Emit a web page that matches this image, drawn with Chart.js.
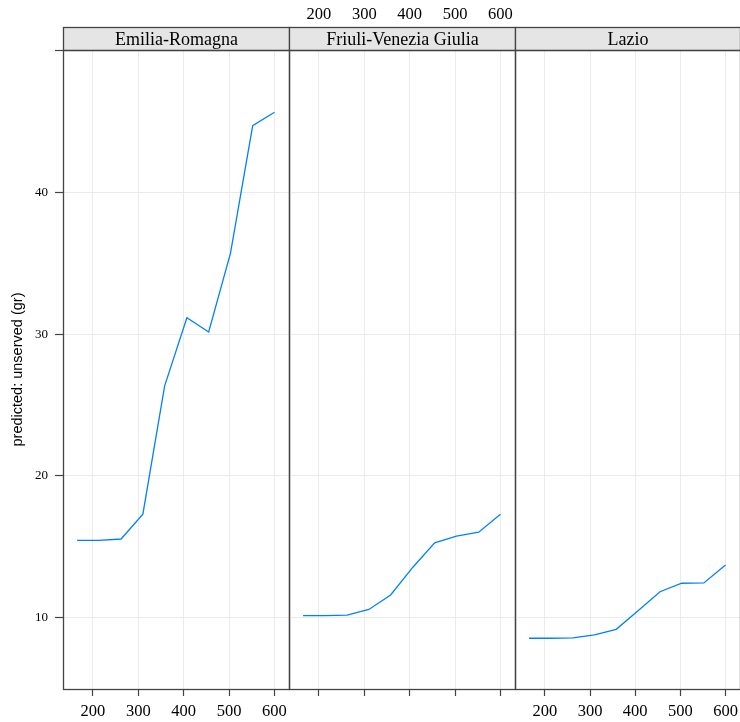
<!DOCTYPE html>
<html>
<head>
<meta charset="utf-8">
<script src="https://cdn.jsdelivr.net/npm/chart.js@4/dist/chart.umd.min.js"></script>
<style>
  html, body { margin: 0; padding: 0; background: #fff; }
  #wrap { position: relative; width: 740px; height: 722px; overflow: hidden; background: #fff; }
  #wrap canvas { position: absolute; left: 0; top: 0; }
</style>
</head>
<body>
<div id="wrap">
  <canvas id="panel0" width="740" height="722"></canvas>
  <canvas id="panel1" width="740" height="722"></canvas>
  <canvas id="panel2" width="740" height="722"></canvas>
</div>
<script>
// Regions shown as panels, left to right
const regions = ['Emilia-Romagna', 'Friuli-Venezia Giulia', 'Lazio'];

// Shared x values (capacity)
const capacity = [165, 213, 262, 310, 358, 407, 455, 503, 552, 600];

// Predicted unserved demand per region
const emiliaRomagna = [15.45, 15.45, 15.55, 17.3, 26.35, 31.15, 30.15, 35.7, 44.7, 45.65];
const friuliVeneziaGiulia = [10.14, 10.15, 10.18, 10.58, 11.6, 13.56, 15.28, 15.76, 16.03, 17.3];
const lazio = [8.55, 8.55, 8.57, 8.78, 9.18, 10.5, 11.83, 12.43, 12.45, 13.72];

// Axis ticks
const xTicks = [200, 300, 400, 500, 600];
const yTicks = [10, 20, 30, 40, 50];
const yTickLabels = ['10', '20', '30', '40', ''];

const yTitle = 'predicted: unserved (gr)';

const series = [emiliaRomagna, friuliVeneziaGiulia, lazio];

// Layout of the three panels (pixels)
const panelEdges = [[63, 289], [289, 515], [515, 740]];
const plotTop = 50, plotBottom = 689, stripTop = 27;
const xRange = [134, 632];
const yRange = [4.97, 50.04];

const SERIF = '"Liberation Serif", "Times New Roman", serif';
const SANS = '"Liberation Sans", Arial, sans-serif';
const FRAME = '#444';
const GRID = '#ebebeb';

// Keep every panel exactly where it is placed, whatever the label overhang
function noOverhang(s) {
  s.paddingLeft = 0; s.paddingRight = 0; s.paddingTop = 0; s.paddingBottom = 0;
}

// Strip header and panel frame
const panelFrame = {
  id: 'panelFrame',
  afterDraw(chart, args, opts) {
    const { ctx, chartArea: a } = chart;
    const L = Math.round(a.left) + 0.5, R = Math.round(a.right) + 0.5;
    const T = Math.round(a.top) + 0.5, B = Math.round(a.bottom) + 0.5;
    const S = stripTop + 0.5;
    ctx.save();
    ctx.fillStyle = '#e5e5e5';
    ctx.fillRect(L, S, R - L, T - S);
    ctx.strokeStyle = FRAME;
    ctx.lineWidth = 1.3;
    ctx.strokeRect(L, S, R - L, T - S);
    ctx.strokeRect(L, T, R - L, B - T);
    ctx.fillStyle = '#000';
    ctx.font = '18px ' + SERIF;
    ctx.textAlign = 'center';
    ctx.textBaseline = 'middle';
    ctx.fillText(opts.label, (L + R) / 2, (S + T) / 2 + 1);
    ctx.restore();
  }
};

function makePanel(idx) {
  const [left, right] = panelEdges[idx];
  const first = idx === 0;
  const middle = idx === 1;

  const scales = {
    x: {
      type: 'linear', position: 'bottom', min: xRange[0], max: xRange[1],
      afterBuildTicks: s => { s.ticks = xTicks.map(v => ({ value: v })); },
      afterFit: s => { s.height = 722 - plotBottom; noOverhang(s); },
      grid: { color: GRID, tickColor: FRAME, tickLength: 7, drawTicks: true, drawOnChartArea: true, tickWidth: 1.2 },
      border: { display: false },
      ticks: {
        autoSkip: false, maxRotation: 0, padding: 6, color: '#000',
        font: { family: SERIF, size: 16.5 },
        callback: v => middle ? '' : String(v)
      }
    },
    y: {
      type: 'linear', position: 'left', min: yRange[0], max: yRange[1],
      afterBuildTicks: s => { s.ticks = yTicks.map(v => ({ value: v })); },
      afterFit: s => { s.width = first ? left : 0; noOverhang(s); },
      grid: { color: GRID, tickColor: FRAME, tickLength: 8, drawTicks: first, drawOnChartArea: true, tickWidth: 1.2 },
      border: { display: false },
      ticks: {
        display: first, padding: 7, color: '#000',
        font: { family: SERIF, size: 13 },
        callback: v => yTickLabels[yTicks.indexOf(v)] ?? ''
      },
      title: {
        display: first, text: yTitle, color: '#000',
        font: { family: SANS, size: 14.5 },
        padding: { top: 9, bottom: 0 }
      }
    }
  };

  if (middle) {
    scales.xTop = {
      type: 'linear', position: 'top', axis: 'x', min: xRange[0], max: xRange[1],
      afterBuildTicks: s => { s.ticks = xTicks.map(v => ({ value: v })); },
      afterFit: s => { s.height = plotTop; noOverhang(s); },
      grid: { display: false, drawTicks: false, drawOnChartArea: false },
      border: { display: false },
      ticks: {
        autoSkip: false, maxRotation: 0, padding: 25, color: '#000',
        font: { family: SERIF, size: 16.5 }
      }
    };
  }

  return new Chart(document.getElementById('panel' + idx), {
    type: 'line',
    data: {
      datasets: [{
        label: regions[idx],
        data: capacity.map((c, i) => ({ x: c, y: series[idx][i] })),
        borderColor: '#0080ff',
        borderWidth: 1.3,
        pointRadius: 0,
        tension: 0,
        fill: false
      }]
    },
    options: {
      responsive: false,
      animation: false,
      devicePixelRatio: 1,
      parsing: false,
      layout: {
        padding: {
          left: first ? 0 : left,
          right: 740 - right,
          top: middle ? 0 : plotTop,
          bottom: 0
        }
      },
      scales,
      plugins: {
        legend: { display: false },
        tooltip: { enabled: false },
        panelFrame: { label: regions[idx] }
      }
    },
    plugins: [panelFrame]
  });
}

regions.forEach((_, i) => makePanel(i));
</script>
</body>
</html>
